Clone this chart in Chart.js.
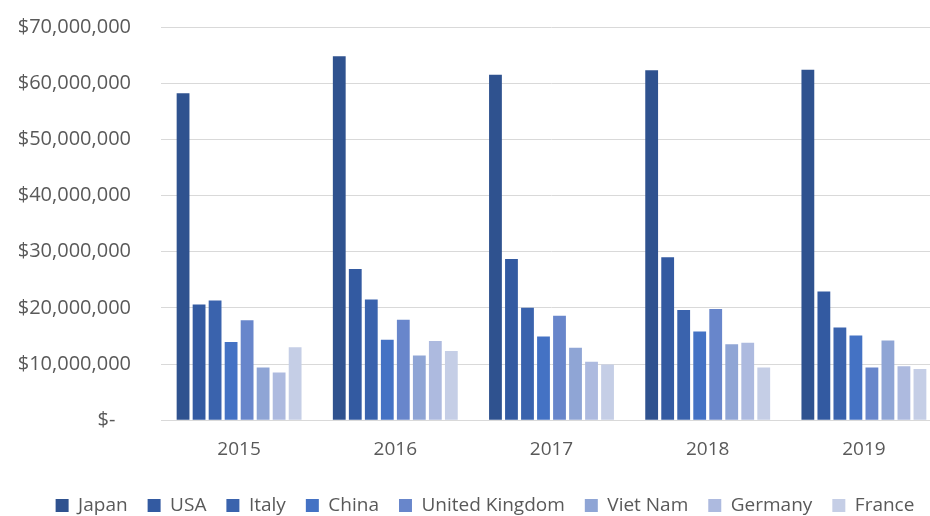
<!DOCTYPE html>
<html>
<head>
<meta charset="utf-8">
<script src="https://cdn.jsdelivr.net/npm/chart.js@4"></script>
<style>
  html, body { margin: 0; padding: 0; background: #ffffff; overflow: hidden; }
  #wrap { position: relative; top: -15px; width: 970px; height: 543px; }
</style>
</head>
<body>
<div id="wrap"><canvas id="chart"></canvas></div>
<script>
// Yearly totals per country, in dollars
const years = ['2015', '2016', '2017', '2018', '2019'];
const countries = ['Japan', 'USA', 'Italy', 'China', 'United Kingdom', 'Viet Nam', 'Germany', 'France'];

const japan   = [58200000, 64800000, 61500000, 62300000, 62400000];
const usa     = [20600000, 26900000, 28700000, 29000000, 22900000];
const italy   = [21300000, 21500000, 20000000, 19600000, 16500000];
const china   = [13900000, 14300000, 14900000, 15800000, 15100000];
const uk      = [17800000, 17900000, 18600000, 19800000, 9400000];
const vietNam = [9400000, 11500000, 12900000, 13500000, 14200000];
const germany = [8500000, 14100000, 10400000, 13800000, 9600000];
const france  = [13000000, 12300000, 9900000, 9400000, 9100000];

const yTicks = [0, 10000000, 20000000, 30000000, 40000000, 50000000, 60000000, 70000000];

const seriesValues = [japan, usa, italy, china, uk, vietNam, germany, france];
const seriesColors = ['#2f528f', '#335aa1', '#3a63ad', '#4472c4', '#6886cb', '#8fa5d5', '#adbadf', '#c5cee6'];

const textColor = '#595959';
const gridColor = '#d9d9d9';
const fontFamily = '"Open Sans", sans-serif';

const ctx = document.getElementById('chart').getContext('2d');

// The right padding belongs to the plot only, so center the legend on the full canvas
// and lift it a little so the descenders stay visible
const legendShift = {
    id: 'legendShift',
    afterLayout(chart) {
        const shift = chart.options.layout.padding.right / 2;
        chart.legend.left += shift;
        chart.legend.right += shift;
        chart.legend.top -= 3;
        chart.legend.bottom -= 3;
    },
};

const data = {
    labels: years,
    datasets: countries.map((name, i) => ({
        label: name,
        data: seriesValues[i],
        backgroundColor: seriesColors[i],
        borderWidth: 0,
        barPercentage: 0.8,
        categoryPercentage: 0.82,
    })),
};

const options = {
    responsive: true,
    maintainAspectRatio: false,
    animation: false,
    layout: {
        padding: { top: 1, right: 28, left: 0, bottom: 0 },
    },
    plugins: {
        legend: {
            position: 'bottom',
            labels: {
                color: textColor,
                font: { family: fontFamily, size: 19 },
                boxWidth: 13,
                boxHeight: 13,
                padding: 20,
            },
        },
        tooltip: { enabled: false },
    },
    scales: {
        x: {
            grid: { display: false, drawTicks: false },
            border: { color: gridColor, width: 1 },
            ticks: {
                color: textColor,
                font: { family: fontFamily, size: 19 },
                padding: 18,
            },
        },
        y: {
            min: 0,
            max: 70000000,
            afterBuildTicks: (scale) => {
                scale.ticks = yTicks.map((v) => ({ value: v }));
            },
            afterFit: (scale) => {
                scale.width = 161;
            },
            grid: { color: gridColor, lineWidth: 1, drawTicks: false },
            border: { display: false },
            ticks: {
                color: textColor,
                font: { family: fontFamily, size: 20 },
                padding: 30,
                callback: (value) => value === 0 ? '$-   ' : '$' + value.toLocaleString('en-US'),
            },
        },
    },
};

new Chart(ctx, {
    type: 'bar',
    data,
    options,
    plugins: [legendShift],
});
</script>
</body>
</html>
